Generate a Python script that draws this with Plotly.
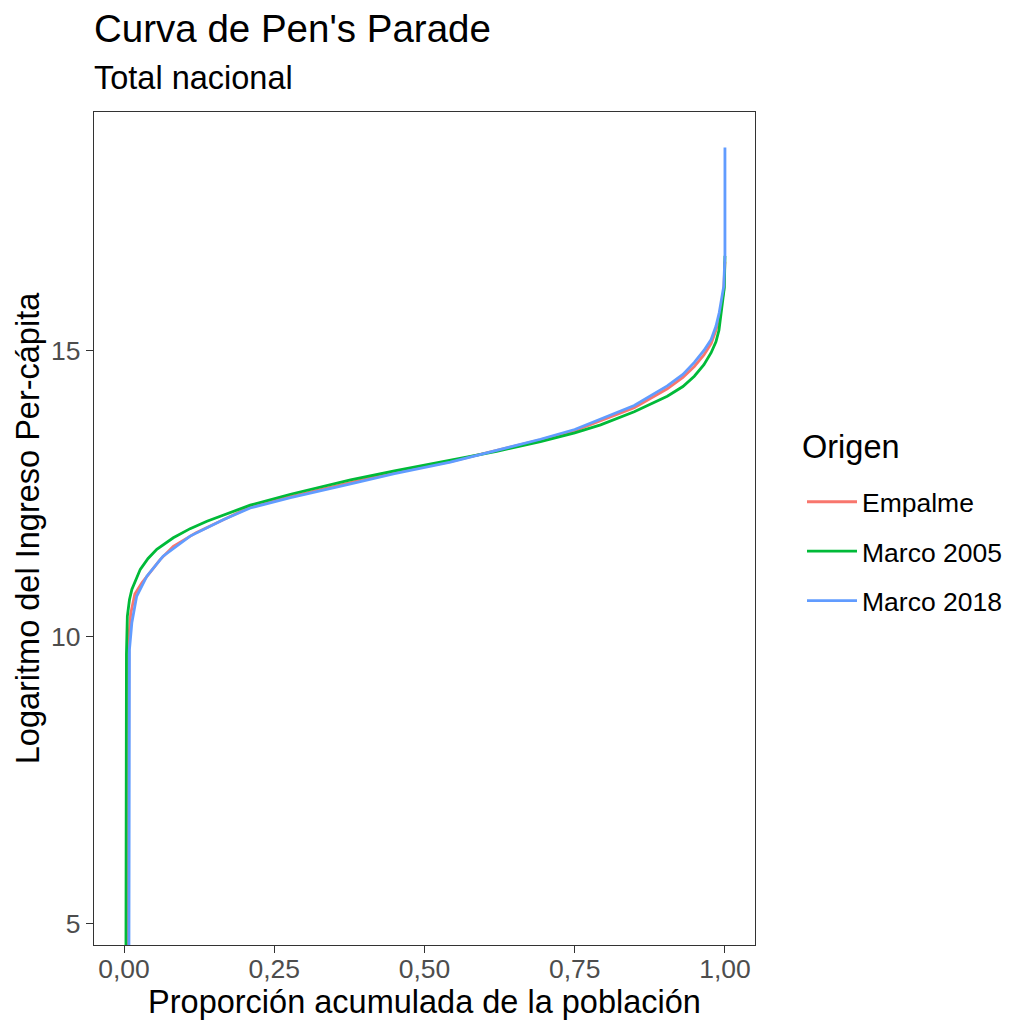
import plotly.graph_objects as go

# ---- data ----
series_names = ["Empalme", "Marco 2005", "Marco 2018"]
series_colors = ["#F8766D", "#00BA38", "#619CFF"]

empalme_p = [0.007, 0.007, 0.0075, 0.008, 0.011, 0.018, 0.03, 0.04, 0.06, 0.082, 0.12, 0.166, 0.21,
             0.277, 0.377, 0.45, 0.543, 0.62, 0.693, 0.75, 0.793, 0.849, 0.904, 0.93, 0.949, 0.965,
             0.977, 0.985, 0.99, 0.995, 0.998, 1.0]
empalme_v = [3.5, 8.8, 9.5, 10.0, 10.4, 10.75, 10.95, 11.08, 11.35, 11.58, 11.82, 12.05, 12.27,
             12.45, 12.69, 12.87, 13.06, 13.25, 13.44, 13.60, 13.77, 14.00, 14.33, 14.53, 14.72, 14.92,
             15.12, 15.35, 15.55, 15.82, 16.05, 16.55]

m2005_p = [0.003, 0.003, 0.0035, 0.004, 0.0055, 0.0075, 0.009, 0.013, 0.02, 0.027, 0.04, 0.0545, 0.082,
           0.11, 0.138, 0.193, 0.21, 0.277, 0.377, 0.45, 0.543, 0.62, 0.693, 0.75, 0.793, 0.849, 0.904,
           0.93, 0.949, 0.965, 0.977, 0.985, 0.99, 0.996, 0.999, 1.0]
m2005_v = [3.5, 9.0, 9.4, 9.7, 10.36, 10.55, 10.65, 10.83, 11.02, 11.18, 11.37, 11.53, 11.73,
           11.89, 12.02, 12.23, 12.30, 12.49, 12.74, 12.90, 13.08, 13.24, 13.41, 13.56, 13.70, 13.93, 14.20,
           14.37, 14.55, 14.75, 14.96, 15.15, 15.35, 15.80, 16.10, 16.65]

m2018_p = [0.008, 0.008, 0.0085, 0.009, 0.013, 0.021, 0.038, 0.065, 0.11, 0.166, 0.21, 0.277, 0.377,
           0.45, 0.543, 0.62, 0.693, 0.75, 0.793, 0.849, 0.904, 0.93, 0.949, 0.965, 0.977, 0.985,
           0.9905, 0.995, 0.998, 1.0, 1.0]
m2018_v = [3.5, 8.79, 9.3, 9.78, 10.25, 10.71, 11.06, 11.41, 11.76, 12.05, 12.25, 12.43, 12.67,
           12.85, 13.05, 13.25, 13.45, 13.62, 13.80, 14.04, 14.38, 14.58, 14.79, 15.00, 15.19, 15.42,
           15.66, 15.90, 16.12, 16.65, 18.54]

x_tick_vals = [0.0, 0.25, 0.5, 0.75, 1.0]
x_tick_text = ["0,00", "0,25", "0,50", "0,75", "1,00"]
y_tick_vals = [5, 10, 15]
y_tick_text = ["5", "10", "15"]

FONT = "Liberation Sans, Arial, sans-serif"

W, H = 1009, 1023
ML, MR, MT, MB = 94, 254, 112, 78
PW, PH = W - ML - MR, H - MT - MB


def px_x(x):
    return (x - ML) / PW


def px_y(y):
    return (H - MB - y) / PH


fig = go.Figure()
for name, color, xs, ys in zip(series_names, series_colors,
                               [empalme_p, m2005_p, m2018_p],
                               [empalme_v, m2005_v, m2018_v]):
    fig.add_trace(go.Scatter(x=xs, y=ys, mode="lines", name=name, legendgroup=name,
                             line=dict(color=color, width=2.8)))

axis_common = dict(showline=True, mirror=True, linecolor="#333333", linewidth=1.3,
                   ticks="outside", ticklen=7, tickwidth=1.3, tickcolor="#333333",
                   showgrid=False, zeroline=False,
                   tickfont=dict(family=FONT, size=26.5, color="#4D4D4D"))

fig.update_layout(
    width=W, height=H,
    margin=dict(l=ML, r=MR, t=MT, b=MB),
    paper_bgcolor="white", plot_bgcolor="white",
    font=dict(family=FONT, color="black"),
    xaxis=dict(range=[-0.05, 1.05], tickvals=x_tick_vals, ticktext=x_tick_text,
               ticklabelstandoff=-7, automargin=False,
               title=dict(text="Proporción acumulada de la población",
                          font=dict(family=FONT, size=32.5, color="black"), standoff=2),
               **axis_common),
    yaxis=dict(range=[4.625, 19.16], tickvals=y_tick_vals, ticktext=y_tick_text,
               automargin=True,
               title=dict(text="Logaritmo del Ingreso Per-cápita",
                          font=dict(family=FONT, size=32.5, color="black"), standoff=1),
               **axis_common),
    legend=dict(xref="container", yref="container",
                x=802 / W, xanchor="left", y=(H - 551.5) / H, yanchor="middle",
                font=dict(family=FONT, size=26.5, color="black"),
                tracegroupgap=12, itemwidth=50, bgcolor="rgba(0,0,0,0)"),
    annotations=[
        dict(text="Curva de Pen's Parade", xref="paper", yref="paper", x=px_x(92), y=px_y(29),
             xanchor="left", yanchor="middle", showarrow=False,
             font=dict(family=FONT, size=38.5, color="black")),
        dict(text="Total nacional", xref="paper", yref="paper", x=px_x(92), y=px_y(78),
             xanchor="left", yanchor="middle", showarrow=False,
             font=dict(family=FONT, size=32.5, color="black")),
        dict(text="Origen", xref="paper", yref="paper", x=px_x(800), y=px_y(447),
             xanchor="left", yanchor="middle", showarrow=False,
             font=dict(family=FONT, size=32.5, color="black")),
    ],
)

fig.write_html("out.html", config={"displayModeBar": False},
               post_script="document.body.style.margin='0';")
